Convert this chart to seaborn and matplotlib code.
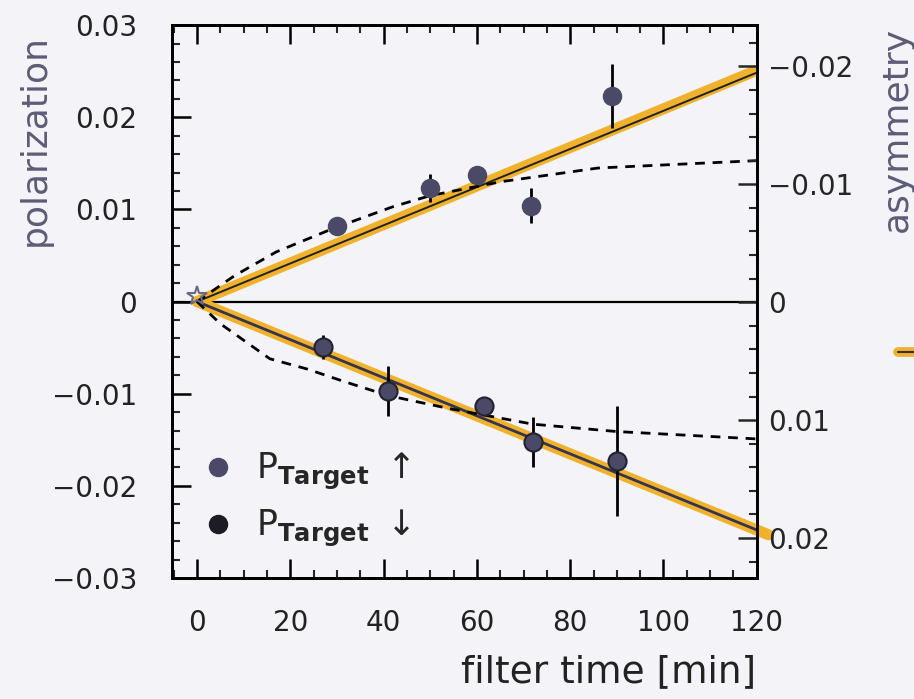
import numpy as np
import pandas as pd
import matplotlib
matplotlib.use("Agg")
import matplotlib.pyplot as plt
from matplotlib.lines import Line2D
from matplotlib.ticker import MultipleLocator, FixedLocator
import seaborn as sns

# data
up_time = [30, 50, 60, 71.5, 89]
up_pol = [0.0082, 0.0123, 0.0137, 0.0104, 0.0223]
up_err = [0.0008, 0.0015, 0.0010, 0.0019, 0.0035]

down_time = [27, 41, 61.5, 72, 90]
down_pol = [-0.0049, -0.0097, -0.0113, -0.0152, -0.0173]
down_err = [0.0013, 0.0027, 0.0005, 0.0027, 0.0060]

start_time = [0]
start_pol = [0.0006]

fit_up_time = [0, 120]
fit_up_pol = [0, 0.0251]
fit_down_time = [0, 122.5]
fit_down_pol = [0, -0.0253]

dash_up_time = [0, 8, 17, 29, 42, 50, 65, 86, 120]
dash_up_pol = [0, 0.0028, 0.0054, 0.0079, 0.0103, 0.0115, 0.0130, 0.0145, 0.0153]
dash_down_time = [0, 5, 15.6, 23.5, 31.7, 41, 54, 72, 90, 120]
dash_down_pol = [0, -0.0024, -0.0062, -0.0073, -0.0087, -0.0102, -0.0116, -0.0133, -0.0141, -0.0149]

x_ticks = [0, 20, 40, 60, 80, 100, 120]
y_ticks = [-0.03, -0.02, -0.01, 0, 0.01, 0.02, 0.03]
y_ticklabels = ["\u22120.03", "\u22120.02", "\u22120.01", "0", "0.01", "0.02", "0.03"]
asym_ticks = [-0.02, -0.01, 0, 0.01, 0.02]
asym_ticklabels = ["\u22120.02", "\u22120.01", "0", "0.01", "0.02"]

bg = "#f4f4f8"
purple = "#4a4a68"
label_col = "#5c5c78"
orange = "#f0b12c"

sns.set_theme(style="ticks")
plt.rcParams["font.family"] = ["DejaVu Sans"]

fig = plt.figure(figsize=(9.14, 6.99), dpi=100, facecolor=bg)
ax = fig.add_axes([0.188, 0.173, 0.640, 0.791])
ax.set_facecolor(bg)

ax.axhline(0, color="black", lw=1.6, zorder=2)

# thick orange fits with thin dark lines on top
sns.lineplot(x=fit_up_time, y=fit_up_pol, ax=ax, color=orange, lw=8, solid_capstyle="butt", zorder=3)
sns.lineplot(x=fit_down_time, y=fit_down_pol, ax=ax, color=orange, lw=8, solid_capstyle="round",
             zorder=3, clip_on=False)
sns.lineplot(x=fit_up_time, y=np.array(fit_up_pol) * 0.99, ax=ax, color="#222222", lw=1.4, zorder=4)
sns.lineplot(x=[0, 120], y=[0, fit_down_pol[1] * 120 / 122.5], ax=ax, color="#34344e", lw=2.0, zorder=4)

# dashed curves
sns.lineplot(x=dash_up_time, y=dash_up_pol, ax=ax, color="black", lw=2, zorder=4)
sns.lineplot(x=dash_down_time, y=dash_down_pol, ax=ax, color="black", lw=2, zorder=4)
for ln in ax.lines[-2:]:
    ln.set_linestyle((0, (3.5, 2.8)))

# data points
ax.errorbar(up_time, up_pol, yerr=up_err, fmt="none", ecolor="black", elinewidth=2, zorder=5)
ax.errorbar(down_time, down_pol, yerr=down_err, fmt="none", ecolor="black", elinewidth=2, zorder=5)
sns.scatterplot(x=up_time, y=up_pol, ax=ax, color=purple, s=170, edgecolor=purple, linewidth=1, zorder=6)
sns.scatterplot(x=down_time, y=down_pol, ax=ax, color=purple, s=170, edgecolor="#222233", linewidth=1.5, zorder=6)
ax.plot(start_time, start_pol, marker="*", ms=15, mfc="none", mec="#6a6a88", mew=1.5, ls="none", zorder=7)

ax.set_xlim(-5.4, 120)
ax.set_ylim(-0.03, 0.03)
ax.xaxis.set_major_locator(FixedLocator(x_ticks))
ax.xaxis.set_minor_locator(MultipleLocator(5))
ax.set_yticks(y_ticks)
ax.set_yticklabels(y_ticklabels)
ax.yaxis.set_minor_locator(MultipleLocator(0.002))
ax.tick_params(axis="both", which="major", direction="in", length=14, width=1.8, labelsize=20,
               colors="black", top=True, right=False)
ax.tick_params(axis="both", which="minor", direction="in", length=6, width=1.5, top=True, right=False)
ax.tick_params(axis="x", which="major", pad=22)
ax.tick_params(axis="y", which="major", pad=25)
for lab in ax.get_xticklabels() + ax.get_yticklabels():
    lab.set_color("#222222")
for sp in ax.spines.values():
    sp.set_linewidth(2)
    sp.set_color("black")
ax.set_xlabel("")
ax.set_ylabel("")

# right axis: asymmetry
ax2 = ax.twinx()
ax2.set_ylim(0.0234, -0.0235)
ax2.set_yticks(asym_ticks)
ax2.set_yticklabels(asym_ticklabels)
ax2.yaxis.set_minor_locator(MultipleLocator(0.002))
ax2.tick_params(axis="y", which="major", direction="in", length=14, width=1.8, labelsize=20, pad=8)
ax2.tick_params(axis="y", which="minor", direction="in", length=6, width=1.5)
for sp in ax2.spines.values():
    sp.set_linewidth(2)
    sp.set_color("black")

fig.text(0.038, 0.80, "polarization", rotation=90, ha="center", va="center", fontsize=26, color=label_col)
fig.text(0.981, 0.815, "asymmetry", rotation=90, ha="center", va="center", fontsize=26, color=label_col)
fig.text(0.666, 0.064, "filter time [min]", ha="center", va="top", fontsize=27, color="#222222")

# legend
handles = [Line2D([], [], ls="none", marker="o", ms=13, mfc=purple, mec=purple),
           Line2D([], [], ls="none", marker="o", ms=13, mfc="#1c1c24", mec="#1c1c24")]
labels = [r"P$_{\mathbf{Target}}$ $\uparrow$", r"P$_{\mathbf{Target}}$ $\downarrow$"]
ax.legend(handles, labels, loc="lower left", bbox_to_anchor=(-0.01, -0.004), frameon=False,
          fontsize=25, handletextpad=0.5, labelspacing=0.45, handlelength=1.2)

# cut-off element at the right edge
fig.add_artist(Line2D([0.982, 1.0], [1 - 352 / 699, 1 - 352 / 699], color=orange, lw=7,
                      transform=fig.transFigure))
fig.add_artist(Line2D([0.982, 1.0], [1 - 352 / 699, 1 - 352 / 699], color="#3a2a3a", lw=1.5,
                      transform=fig.transFigure))

fig.savefig("out.png", dpi=100, facecolor=bg)
